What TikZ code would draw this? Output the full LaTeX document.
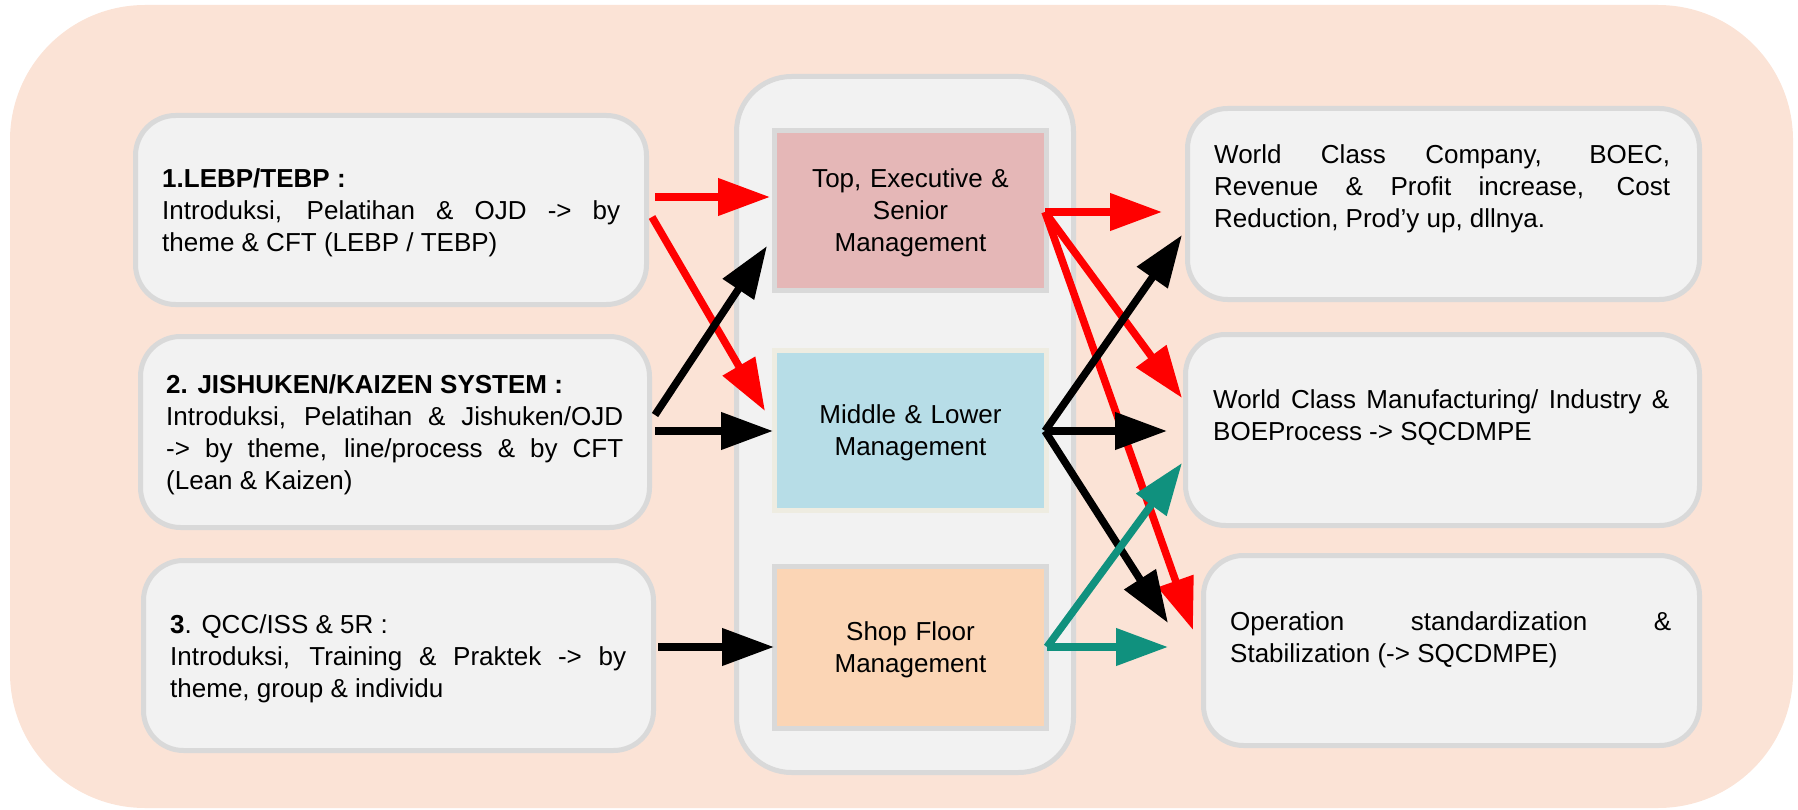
\documentclass[tikz,border=0pt]{standalone}
\usepackage{fontspec}
\setmainfont{Liberation Sans}
\usetikzlibrary{arrows.meta}
\definecolor{bgpeach}{HTML}{FBE3D6}
\definecolor{boxfill}{HTML}{F2F2F2}
\definecolor{boxline}{HTML}{D9D9D9}
\definecolor{toppink}{HTML}{E5B7B7}
\definecolor{midblue}{HTML}{B7DDE7}
\definecolor{midline}{HTML}{EEECE1}
\definecolor{shoppeach}{HTML}{FBD5B5}
\definecolor{arrred}{HTML}{FF0000}
\definecolor{arrteal}{HTML}{10917E}
\tolerance=10000
\hyphenpenalty=10000
\begin{document}
\begin{tikzpicture}[x=1pt,y=-1pt,
  frame/.style={fill=bgpeach, rounded corners=135pt, inner sep=0pt, outer sep=0pt, anchor=north west},
  panel/.style={draw=boxline, line width=5pt, fill=boxfill, rounded corners=40pt, inner sep=0pt, outer sep=0pt, anchor=north west},
  holder/.style={draw=boxline, line width=5pt, fill=boxfill, rounded corners=55pt, inner sep=0pt, outer sep=0pt, anchor=north west},
  level/.style={line width=5pt, inner sep=0pt, outer sep=0pt, anchor=north west, minimum width=272pt},
  txt/.style={inner sep=0pt, anchor=base west, align=justify, font=\fontsize{26}{32}\selectfont},
  ctxt/.style={inner sep=0pt, anchor=base, align=center, text width=270pt, font=\fontsize{26}{32}\selectfont},
  flow/.style={line width=7.5pt, -{Triangle[length=52pt,width=36pt]}},
]
\useasboundingbox (0,0) rectangle (1798,810);
\node[frame, minimum width=1783pt, minimum height=803pt] (bg) at (10,5) {};

% left panels
\node[panel, minimum width=511pt, minimum height=189pt] (p1) at (135.5,115.5) {};
\node[panel, minimum width=509pt, minimum height=191pt] (p2) at (140.5,336.5) {};
\node[panel, minimum width=510pt, minimum height=190pt] (p3) at (143.5,560.5) {};
% right panels
\node[panel, minimum width=512pt, minimum height=191pt] (q1) at (1187.5,108.5) {};
\node[panel, minimum width=514pt, minimum height=191pt] (q2) at (1185.5,334.5) {};
\node[panel, minimum width=496pt, minimum height=190pt] (q3) at (1203.5,555.5) {};
% middle holder and levels
\node[holder, minimum width=337pt, minimum height=696pt] (hold) at (736.5,76.5) {};
\node[level, draw=boxline, fill=toppink, minimum height=160pt] (lvtop) at (774.5,130.5) {};
\node[level, draw=midline, fill=midblue, minimum height=160pt] (lvmid) at (774.5,350.5) {};
\node[level, draw=boxline, fill=shoppeach, minimum height=162pt] (lvshop) at (774.5,566.5) {};

% texts
\node[txt, text width=458pt] (t1) at (162,188) {\textbf{1.LEBP/TEBP :}\\Introduksi, Pelatihan \& OJD -> by\linebreak theme \& CFT (LEBP / TEBP)};
\node[txt, text width=457pt] (t2) at (166,393) {\textbf{2. JISHUKEN/KAIZEN SYSTEM :}\\Introduksi, Pelatihan \& Jishuken/OJD\linebreak -> by theme, line/process \& by CFT\linebreak (Lean \& Kaizen)};
\node[txt, text width=456pt] (t3) at (170,633) {\textbf{3}. QCC/ISS \& 5R :\\Introduksi, Training \& Praktek -> by\linebreak theme, group \& individu};
\node[txt, text width=456pt] (u1) at (1214,164) {World Class Company, BOEC,\linebreak Revenue \& Profit increase, Cost\linebreak Reduction, Prod’y up, dllnya.};
\node[txt, text width=456pt] (u2) at (1213,408) {World Class Manufacturing/ Industry \&\linebreak BOEProcess -> SQCDMPE};
\node[txt, text width=441pt] (u3) at (1230,630) {Operation standardization \&\linebreak Stabilization (-> SQCDMPE)};
\node[ctxt] (m1) at (910.5,188) {Top, Executive \&\\Senior\\Management};
\node[ctxt] (m2) at (910.5,423) {Middle \& Lower\\Management};
\node[ctxt] (m3) at (910.5,640) {Shop Floor\\Management};

% connector end points
\coordinate (p1red1) at (655,197);
\coordinate (p1red2) at (652,217);
\coordinate (p2blk1) at (655,415);
\coordinate (p2blk2) at (655,431);
\coordinate (p3blk) at (658,647);
\coordinate (topinR) at (770,197);
\coordinate (midinR) at (765,411);
\coordinate (topinK) at (767,246);
\coordinate (midinK) at (773,431);
\coordinate (shopin) at (774,647);
\coordinate (topout) at (1045,212);
\coordinate (midout) at (1045,431);
\coordinate (shopout) at (1047,647);
\coordinate (q1inR) at (1162,212);
\coordinate (q2inR) at (1182,398);
\coordinate (q3inR) at (1193,630);
\coordinate (q1inK) at (1182,235);
\coordinate (q2inK) at (1167,431);
\coordinate (q3inK) at (1168,623);
\coordinate (q2inT) at (1182,463);
\coordinate (q3inT) at (1168,647);

% connectors
\draw[flow, arrred] (p1red1) -- (topinR);
\draw[flow, arrred] (p1red2) -- (midinR);
\draw[flow, black] (p2blk1) -- (topinK);
\draw[flow, black] (p2blk2) -- (midinK);
\draw[flow, black] (p3blk) -- (shopin);
\draw[flow, arrred] (topout) -- (q1inR);
\draw[flow, arrred] (topout) -- (q2inR);
\draw[flow, arrred] (topout) -- (q3inR);
\draw[flow, black] (midout) -- (q1inK);
\draw[flow, black] (midout) -- (q2inK);
\draw[flow, black] (midout) -- (q3inK);
\draw[flow, arrteal] (shopout) -- (q2inT);
\draw[flow, arrteal] (shopout) -- (q3inT);
\end{tikzpicture}
\end{document}
